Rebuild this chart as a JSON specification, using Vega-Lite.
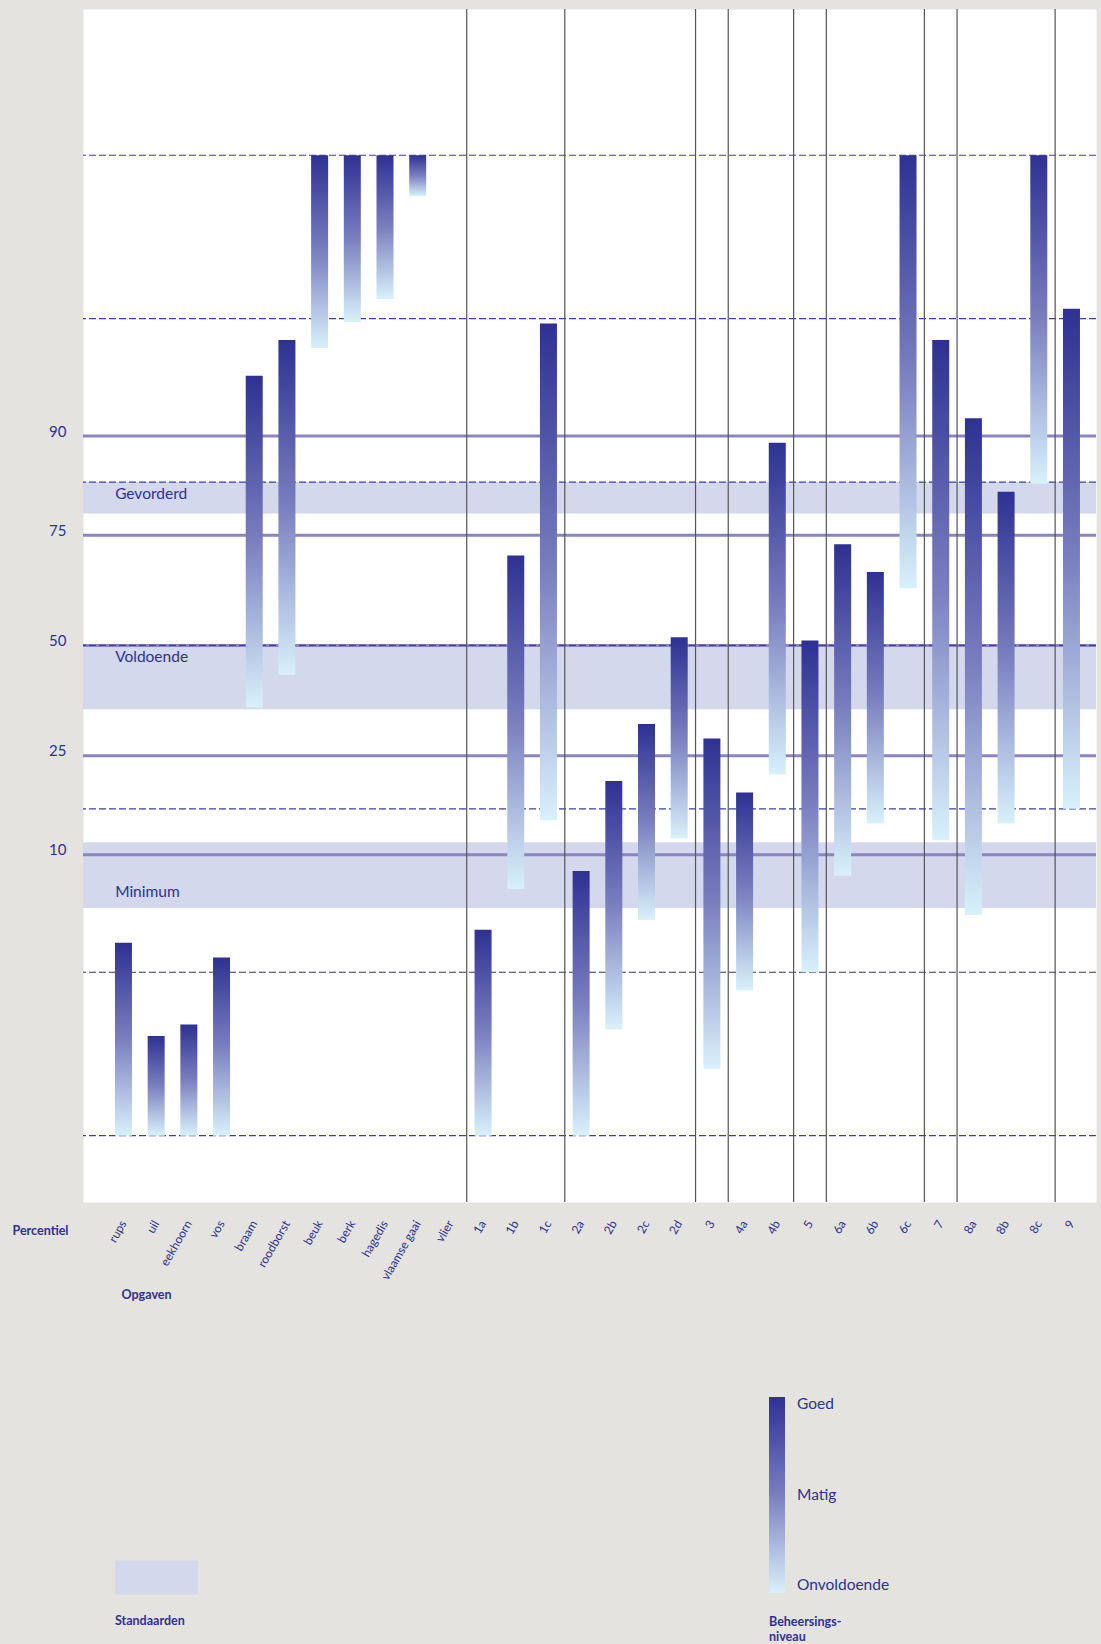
{
  "$schema": "https://vega.github.io/schema/vega-lite/v6.json",
  "width": 1013,
  "height": 1193,
  "autosize": {"type": "none"},
  "padding": {"left": 83, "top": 9, "right": 5, "bottom": 442},
  "background": "#e4e3df",
  "view": {"fill": "#ffffff", "stroke": "transparent"},
  "config": {
    "view": {"fill": "#ffffff", "stroke": "transparent"},
    "font": "Lato",
    "axis": {"labelFont": "Lato", "titleFont": "Lato"},
    "legend": {"labelFont": "Lato", "titleFont": "Lato"}
  },
  "datasets": {
    "opgaven": [
      {"opgave": "rups", "laag": -3, "hoog": -1.82},
      {"opgave": "uil", "laag": -3, "hoog": -2.39},
      {"opgave": "eekhoorn", "laag": -3, "hoog": -2.32},
      {"opgave": "vos", "laag": -3, "hoog": -1.91},
      {"opgave": "braam", "laag": -0.38, "hoog": 1.65},
      {"opgave": "roodborst", "laag": -0.18, "hoog": 1.87},
      {"opgave": "beuk", "laag": 1.82, "hoog": 3.0},
      {"opgave": "berk", "laag": 1.98, "hoog": 3.0},
      {"opgave": "hagedis", "laag": 2.12, "hoog": 3.0},
      {"opgave": "vlaamse gaai", "laag": 2.75, "hoog": 3.0},
      {"opgave": "1a", "laag": -3, "hoog": -1.74},
      {"opgave": "1b", "laag": -1.49, "hoog": 0.55},
      {"opgave": "1c", "laag": -1.07, "hoog": 1.97},
      {"opgave": "2a", "laag": -3, "hoog": -1.38},
      {"opgave": "2b", "laag": -2.35, "hoog": -0.83},
      {"opgave": "2c", "laag": -1.68, "hoog": -0.48},
      {"opgave": "2d", "laag": -1.18, "hoog": 0.05},
      {"opgave": "3", "laag": -2.59, "hoog": -0.57},
      {"opgave": "4a", "laag": -2.11, "hoog": -0.9},
      {"opgave": "4b", "laag": -0.79, "hoog": 1.24},
      {"opgave": "5", "laag": -2.0, "hoog": 0.03},
      {"opgave": "6a", "laag": -1.41, "hoog": 0.62},
      {"opgave": "6b", "laag": -1.09, "hoog": 0.45},
      {"opgave": "6c", "laag": 0.35, "hoog": 3.0},
      {"opgave": "7", "laag": -1.19, "hoog": 1.87},
      {"opgave": "8a", "laag": -1.65, "hoog": 1.39},
      {"opgave": "8b", "laag": -1.09, "hoog": 0.94},
      {"opgave": "8c", "laag": 0.99, "hoog": 3.0},
      {"opgave": "9", "laag": -1.0, "hoog": 2.06}
    ],
    "standaarden": [
      {"standaard": "Gevorderd", "groep": "Standaarden", "van": 0.807, "tot": 1.0},
      {"standaard": "Voldoende", "groep": "Standaarden", "van": -0.39, "tot": 0.0},
      {"standaard": "Minimum", "groep": "Standaarden", "van": -1.607, "tot": -1.204}
    ],
    "percentielen": [
      {"percentiel": 90, "z": 1.2816},
      {"percentiel": 75, "z": 0.6745},
      {"percentiel": 50, "z": 0},
      {"percentiel": 25, "z": -0.6745},
      {"percentiel": 10, "z": -1.2816}
    ],
    "schaal": [
      {"z": -3}, {"z": -2}, {"z": -1}, {"z": 0}, {"z": 1}, {"z": 2}, {"z": 3}
    ],
    "grenzen": [
      {"na": "vlier"}, {"na": "1c"}, {"na": "2d"}, {"na": "3"}, {"na": "4b"},
      {"na": "5"}, {"na": "6c"}, {"na": "7"}, {"na": "8c"}
    ],
    "niveaus": [
      {"niveau": "Onvoldoende", "score": 0},
      {"niveau": "Matig", "score": 1},
      {"niveau": "Goed", "score": 2}
    ]
  },
  "layer": [
    {
      "data": {"name": "standaarden"},
      "mark": {"type": "rect"},
      "encoding": {
        "y": {"field": "van", "type": "quantitative", "scale": {"domain": [-3.406, 3.895], "nice": false, "zero": false},
          "axis": {
            "values": [-1.2816, -0.6745, 0, 0.6745, 1.2816],
            "labelExpr": "datum.value > 1 ? '90' : datum.value > 0.5 ? '75' : datum.value > -0.5 ? '50' : datum.value > -1 ? '25' : '10'",
            "ticks": false, "domain": false, "grid": false,
            "labelPadding": 17, "labelFontSize": 15, "labelColor": "#2e3192", "labelBaseline": "alphabetic",
            "title": "Percentiel", "titleAngle": 0, "titleX": -71, "titleY": 1225, "titleAlign": "left",
            "titleBaseline": "alphabetic", "titleFontSize": 12.5, "titleFontWeight": "bold", "titleColor": "#2e3192"
          }},
        "y2": {"field": "tot"},
        "fill": {"field": "groep", "type": "nominal",
          "scale": {"domain": ["Standaarden"], "range": ["#d3d8ec"]},
          "legend": {
            "orient": "none", "legendX": 32, "legendY": 1527,
            "title": "Standaarden", "titleOrient": "bottom", "titleFontSize": 12.5, "titleFontWeight": "bold",
            "titleColor": "#2e3192", "titlePadding": 21,
            "symbolType": "M-1,-0.41H1V0.41H-1Z", "symbolSize": 6839, "symbolStrokeWidth": 0,
            "labelExpr": "''", "padding": 0, "symbolOffset": 0
          }}
      }
    },
    {
      "data": {"name": "percentielen"},
      "mark": {"type": "rule", "color": "#8985c3", "strokeWidth": 3},
      "encoding": {"y": {"field": "z", "type": "quantitative"}}
    },
    {
      "data": {"name": "schaal"},
      "mark": {"type": "rule", "strokeWidth": 1.2, "strokeDash": [7, 3]},
      "encoding": {
        "y": {"field": "z", "type": "quantitative"},
        "color": {"condition": {"test": "datum.z == -2", "value": "#3a3a5a"}, "value": "#3d3fa3"}
      }
    },
    {
      "data": {"name": "grenzen"},
      "mark": {"type": "rule", "color": "#555555", "strokeWidth": 1.2},
      "encoding": {
        "x": {"field": "na", "type": "nominal", "bandPosition": 1,
          "scale": {"domain": ["rups","uil","eekhoorn","vos","braam","roodborst","beuk","berk","hagedis","vlaamse gaai","vlier","1a","1b","1c","2a","2b","2c","2d","3","4a","4b","5","6a","6b","6c","7","8a","8b","8c","9"],
            "paddingInner": 0, "paddingOuter": 0.494, "align": 0.747}}
      }
    },
    {
      "data": {"name": "opgaven"},
      "mark": {"type": "bar", "width": 17,
        "color": {"gradient": "linear", "x1": 0, "y1": 0, "x2": 0, "y2": 1,
          "stops": [{"offset": 0, "color": "#2e3192"}, {"offset": 0.5, "color": "#7a7fbf"}, {"offset": 1, "color": "#d8f1fb"}]}},
      "encoding": {
        "x": {"field": "opgave", "type": "nominal",
          "scale": {"domain": ["rups","uil","eekhoorn","vos","braam","roodborst","beuk","berk","hagedis","vlaamse gaai","vlier","1a","1b","1c","2a","2b","2c","2d","3","4a","4b","5","6a","6b","6c","7","8a","8b","8c","9"]},
          "axis": {
            "labelAngle": -60, "labelAlign": "right", "labelBaseline": "middle", "labelPadding": 19,
            "labelFontSize": 12, "labelColor": "#2e3192", "ticks": false, "domain": false, "labelOverlap": false,
            "title": "Opgaven", "titleX": 38, "titleY": 96, "titleAlign": "left", "titleBaseline": "alphabetic",
            "titleFontSize": 12.5, "titleFontWeight": "bold", "titleColor": "#2e3192"
          }},
        "y": {"field": "hoog", "type": "quantitative"},
        "y2": {"field": "laag"}
      }
    },
    {
      "data": {"name": "standaarden"},
      "transform": [{"filter": "datum.standaard != 'Minimum'"}],
      "mark": {"type": "text", "align": "left", "baseline": "top", "dx": 8, "dy": 5, "fontSize": 15.5, "color": "#2e3192"},
      "encoding": {
        "x": {"datum": "rups", "type": "nominal", "bandPosition": 0},
        "y": {"field": "tot", "type": "quantitative"},
        "text": {"field": "standaard"}
      }
    },
    {
      "data": {"name": "standaarden"},
      "transform": [{"filter": "datum.standaard == 'Minimum'"}],
      "mark": {"type": "text", "align": "left", "baseline": "bottom", "dx": 8, "dy": -8, "fontSize": 15.5, "color": "#2e3192"},
      "encoding": {
        "x": {"datum": "rups", "type": "nominal", "bandPosition": 0},
        "y": {"field": "van", "type": "quantitative"},
        "text": {"field": "standaard"}
      }
    },
    {
      "mark": {"type": "text", "align": "right", "baseline": "alphabetic", "dx": -9, "fontSize": 10.5, "color": "#2e3192", "text": "© Cito"},
      "encoding": {
        "x": {"datum": "8c", "type": "nominal", "bandPosition": 1},
        "y": {"datum": -3.344, "type": "quantitative"}
      }
    },
    {
      "data": {"name": "niveaus"},
      "mark": {"type": "point", "opacity": 0},
      "encoding": {
        "color": {"field": "score", "type": "quantitative",
          "scale": {"domain": [0, 1, 2], "range": ["#d8f1fb", "#7a7fbf", "#2e3192"], "interpolate": "rgb"},
          "legend": {
            "orient": "none", "legendX": 686, "legendY": 1388, "direction": "vertical",
            "gradientLength": 196, "gradientThickness": 16, "gradientStrokeWidth": 0,
            "values": [0, 1, 2],
            "labelExpr": "datum.value == 2 ? 'Goed' : datum.value == 1 ? 'Matig' : 'Onvoldoende'",
            "labelFontSize": 15.5, "labelColor": "#2e3192", "labelOffset": 12,
            "title": ["Beheersings-", "niveau"], "titleOrient": "bottom", "titleFontSize": 12.5,
            "titleFontWeight": "bold", "titleColor": "#2e3192", "titlePadding": 22, "titleLineHeight": 15,
            "padding": 0
          }}
      }
    }
  ]
}
